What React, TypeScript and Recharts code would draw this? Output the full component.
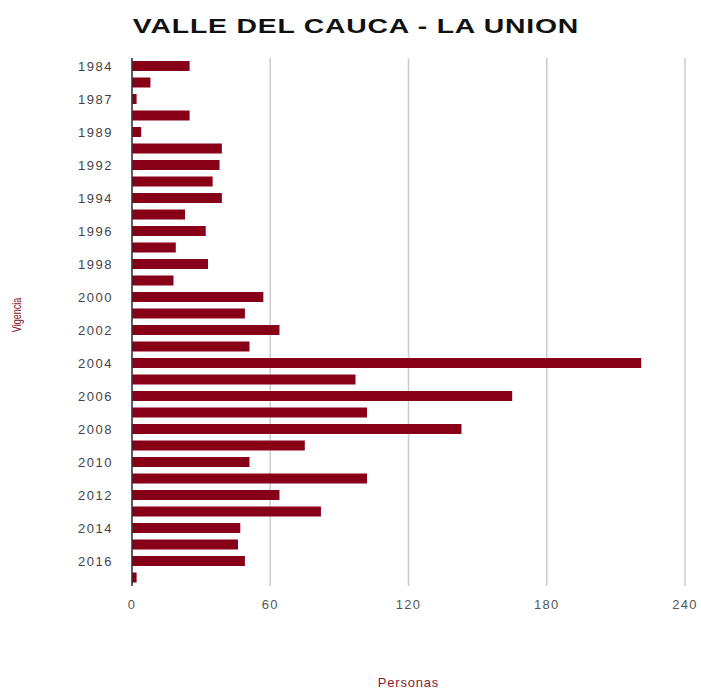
import React from "react"
import { Bar, BarChart, CartesianGrid, XAxis, YAxis } from "recharts"

// Vigencias (años) y personas por año
const years = [
  "1984", "1986", "1987", "1988", "1989", "1991", "1992", "1993", "1994", "1995", "1996",
  "1997", "1998", "1999", "2000", "2001", "2002", "2003", "2004", "2005", "2006", "2007",
  "2008", "2009", "2010", "2011", "2012", "2013", "2014", "2015", "2016", "2017",
]
const personas = [
  25, 8, 2, 25, 4, 39, 38, 35, 39, 23, 32,
  19, 33, 18, 57, 49, 64, 51, 221, 97, 165, 102,
  143, 75, 51, 102, 64, 82, 47, 46, 49, 2,
]
const xTicks = [0, 60, 120, 180, 240]

const chartData = years.map((year, i) => ({ year, personas: personas[i] }))

const FONT = "Arial, 'Liberation Sans', sans-serif"
const MAROON = "#870018"

export default function App() {
  return (
    <div style={{ position: "absolute", left: 0, top: 0, width: 701, height: 689, background: "#fff" }}>
      <div
        style={{
          position: "absolute", left: 0, top: 14, width: 712, textAlign: "center",
          fontFamily: FONT, fontWeight: "bold", fontSize: 21, letterSpacing: 0.6, color: "#111",
          transform: "scaleX(1.35)", transformOrigin: "356px 0",
        }}
      >
        VALLE DEL CAUCA - LA UNION
      </div>
      <BarChart
        width={701}
        height={689}
        data={chartData}
        layout="vertical"
        margin={{ top: 58, right: 16, bottom: 73, left: 60 }}
        barSize={10}
      >
        <CartesianGrid horizontal={false} stroke="#cccccc" strokeWidth={1.5} />
        <XAxis
          type="number"
          domain={[0, 240]}
          ticks={xTicks}
          axisLine={false}
          tickLine={false}
          tickMargin={8}
          height={30}
          tick={{ fill: "#555", fontSize: 13, fontFamily: FONT, letterSpacing: 1.2 }}
          label={{
            value: "Personas", position: "bottom", offset: 62,
            fill: "#8b1a30", fontSize: 13, fontFamily: FONT, letterSpacing: 0.8,
          }}
        />
        <YAxis
          type="category"
          dataKey="year"
          width={72}
          interval={1}
          axisLine={{ stroke: "#333", strokeWidth: 1.5 }}
          tickLine={false}
          tickMargin={13}
          tick={{ fill: "#444", fontSize: 13, fontFamily: FONT, letterSpacing: 1.5 }}
          label={{
            content: (props: any) => {
              const vb = props.viewBox || { x: 60, y: 58, height: 528 }
              const cx = vb.x - 44
              const cy = vb.y + vb.height / 2 - 7
              return (
                <text
                  x={0}
                  y={0}
                  transform={`translate(${cx} ${cy}) rotate(-90) scale(0.75 1)`}
                  textAnchor="middle"
                  dominantBaseline="central"
                  fill="#8b1a30"
                  fontSize={12}
                  fontFamily={FONT}
                >
                  Vigencia
                </text>
              )
            },
          }}
        />
        <Bar dataKey="personas" fill={MAROON} isAnimationActive={false} />
      </BarChart>
    </div>
  )
}
